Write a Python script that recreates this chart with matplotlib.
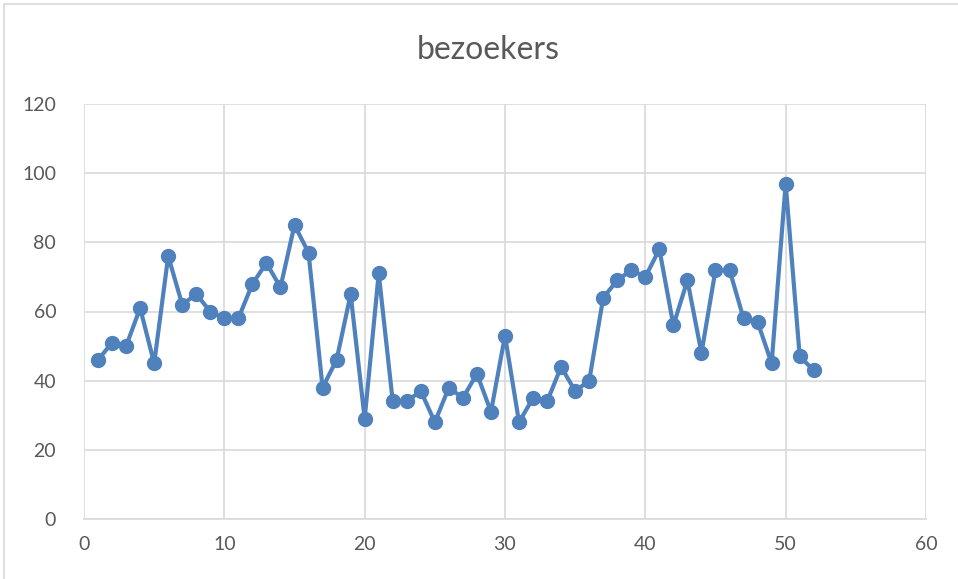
import numpy as np
import matplotlib
matplotlib.use('Agg')
import matplotlib.pyplot as plt
from matplotlib.patches import Rectangle

plt.rcParams['font.family'] = ['Lato', 'DejaVu Sans']

# data
weeks = list(range(1, 53))
bezoekers = [46, 51, 50, 61, 45, 76, 62, 65, 60, 58,
             58, 68, 74, 67, 85, 77, 38, 46, 65, 29,
             71, 34, 34, 37, 28, 38, 35, 42, 31, 53,
             28, 35, 34, 44, 37, 40, 64, 69, 72, 70,
             78, 56, 69, 48, 72, 72, 58, 57, 45, 97,
             47, 43]
x_ticks = [0, 10, 20, 30, 40, 50, 60]
y_ticks = [0, 20, 40, 60, 80, 100, 120]

line_color = '#4f81bd'
grid_color = '#d9d9d9'
text_color = '#595959'

fig = plt.figure(figsize=(9.58, 5.79), dpi=100)
ax = fig.add_axes([84 / 958, 1 - 519 / 579, (926 - 84) / 958, (519 - 104) / 579])

ax.plot(weeks, bezoekers, color=line_color, linewidth=3, marker='o',
        markersize=10, markerfacecolor=line_color, markeredgecolor=line_color, zorder=3)

ax.set_xlim(0, 60)
ax.set_ylim(0, 120)
ax.set_xticks(x_ticks)
ax.set_yticks(y_ticks)
ax.grid(True, color=grid_color, linewidth=1.2)
ax.set_axisbelow(True)
for side in ['top', 'right', 'left']:
    ax.spines[side].set_visible(False)
ax.spines['bottom'].set_color(grid_color)
ax.spines['bottom'].set_linewidth(1.2)
ax.tick_params(length=0, labelsize=14, colors=text_color, pad=12)
ax.tick_params(axis='y', pad=20)

fig.text(488 / 958, 1 - 50 / 579, 'bezoekers', ha='center', va='center',
         fontsize=23, color=text_color)

# chart border
fig.patches.append(Rectangle((4 / 958, -0.01), 1.0, 1 - 4 / 579 + 0.01, transform=fig.transFigure,
                             fill=False, edgecolor='#d9d9d9', linewidth=1.2))

fig.savefig('out.png', dpi=100)
